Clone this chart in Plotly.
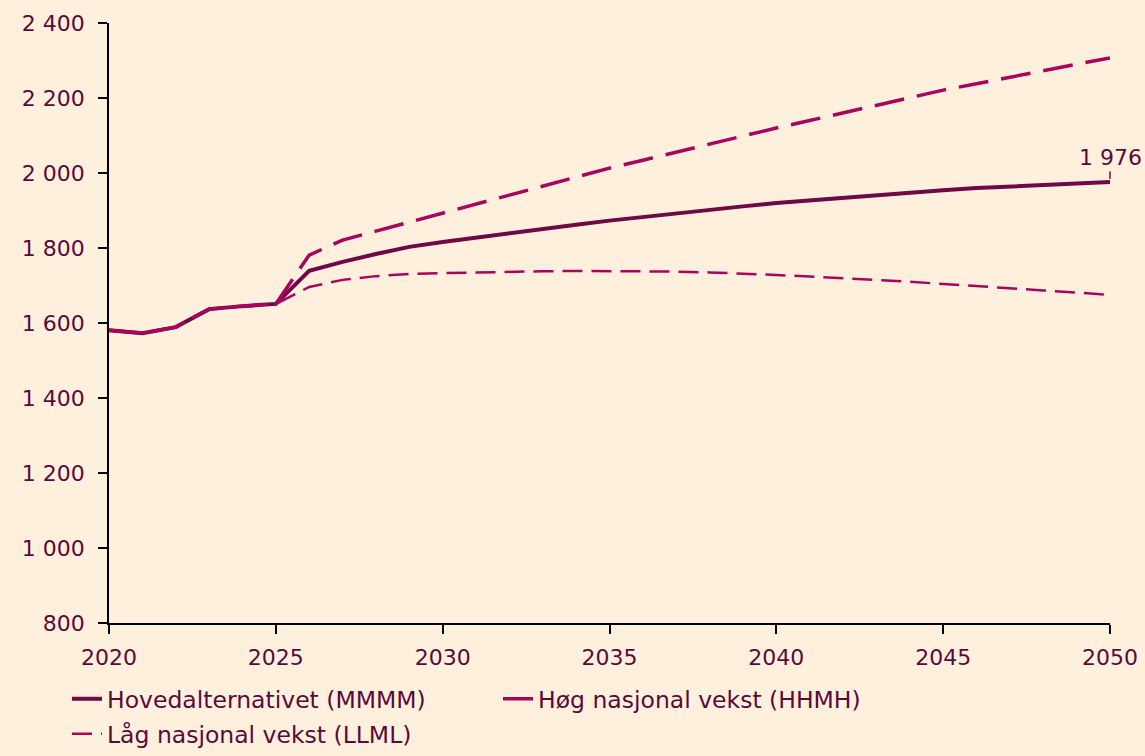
import plotly.graph_objects as go

years = list(range(2020, 2051))
history = [1581, 1573, 1589, 1637, 1645, 1651]
main_proj = [1739, 1763, 1784, 1803, 1816, 1828, 1840, 1851, 1862, 1873, 1883, 1893, 1902, 1911, 1920,
             1927, 1934, 1942, 1948, 1954, 1960, 1964, 1969, 1973, 1976]
high_proj = [1781, 1821, 1845, 1869, 1893, 1917, 1941, 1965, 1989, 2013, 2034, 2056, 2077, 2099, 2120,
             2140, 2160, 2181, 2201, 2221, 2238, 2256, 2273, 2290, 2307]
low_proj = [1696, 1715, 1725, 1731, 1733, 1735, 1737, 1738, 1739, 1739, 1738, 1737, 1735, 1732, 1728,
            1724, 1720, 1715, 1710, 1704, 1699, 1693, 1687, 1681, 1675]

main = history + main_proj
high = history + high_proj
low = history + low_proj

names = ["Hovedalternativet (MMMM)", "Høg nasjonal vekst (HHMH)", "Låg nasjonal vekst (LLML)"]
y_ticks = [800, 1000, 1200, 1400, 1600, 1800, 2000, 2200, 2400]
x_ticks = [2020, 2025, 2030, 2035, 2040, 2045, 2050]

MAIN_C = "#6e0846"
ALT_C = "#a8045f"
TEXT_C = "#5a0a3a"
BG = "#fef0dc"
FONT = "DejaVu Sans, Open Sans, sans-serif"
TICK_FS = 22
LEG_FS = 23.5

fig = go.Figure()
fig.add_trace(go.Scatter(x=years, y=main, name=names[0], mode="lines", legend="legend",
                         line=dict(color=MAIN_C, width=4)))
fig.add_trace(go.Scatter(x=years, y=high, name=names[1], mode="lines", legend="legend",
                         line=dict(color=ALT_C, width=3.5, dash="30px,13px")))
fig.add_trace(go.Scatter(x=years, y=low, name=names[2], mode="lines", legend="legend2",
                         line=dict(color=ALT_C, width=2.5, dash="20px,9px")))

fig.add_annotation(x=years[-1], y=main[-1], text="1 976", showarrow=True, arrowhead=0,
                   arrowwidth=1.5, arrowcolor=MAIN_C, ax=0, ay=-24.5,
                   font=dict(size=TICK_FS, color=TEXT_C), standoff=3)

# page geometry: plot area spans x 109..1110, y 23..623
W, H = 1145, 756
L, R, T, B = 10, 10, 23, 0
paper_w = W - L - R
paper_h = H - T - B
x_dom = [(109 - L) / paper_w, (1110 - L) / paper_w]
y_dom0 = (H - B - 623) / paper_h
leg_x = (67 - L) / paper_w
leg1_y = (H - B - 677) / paper_h

legend_common = dict(orientation="h", xanchor="left",
                     entrywidth=386, entrywidthmode="pixels",
                     font=dict(size=LEG_FS, color=TEXT_C), bgcolor="rgba(0,0,0,0)")

fig.update_layout(
    width=W, height=H,
    paper_bgcolor=BG, plot_bgcolor=BG,
    margin=dict(l=L, r=R, t=T, b=B),
    font=dict(family=FONT, size=TICK_FS, color=TEXT_C),
    separators=", ",
    showlegend=True,
    legend=dict(x=leg_x, y=leg1_y, yanchor="top", **legend_common),
    legend2=dict(x=leg_x, y=0, yanchor="bottom", **legend_common),
    xaxis=dict(range=[2020, 2050], tickvals=x_ticks, showgrid=False, zeroline=False,
               domain=x_dom,
               showline=True, linecolor="black", linewidth=2, ticks="outside",
               tickcolor="black", ticklen=9, tickwidth=1.5, ticklabelstandoff=5,
               automargin=False, anchor="y",
               tickfont=dict(size=TICK_FS, color=TEXT_C)),
    yaxis=dict(range=[800, 2400], tickvals=y_ticks, tickformat=",d", showgrid=False,
               domain=[y_dom0, 1], anchor="x",
               zeroline=False, showline=True, linecolor="black", linewidth=1.5,
               ticks="outside", tickcolor="black", ticklen=9, tickwidth=1.5,
               ticklabelstandoff=9, automargin=False,
               tickfont=dict(size=TICK_FS, color=TEXT_C)),
)

fig.write_html("out.html", config={"displayModeBar": False},
               post_script="document.body.style.margin='0';document.body.style.overflow='hidden';")
